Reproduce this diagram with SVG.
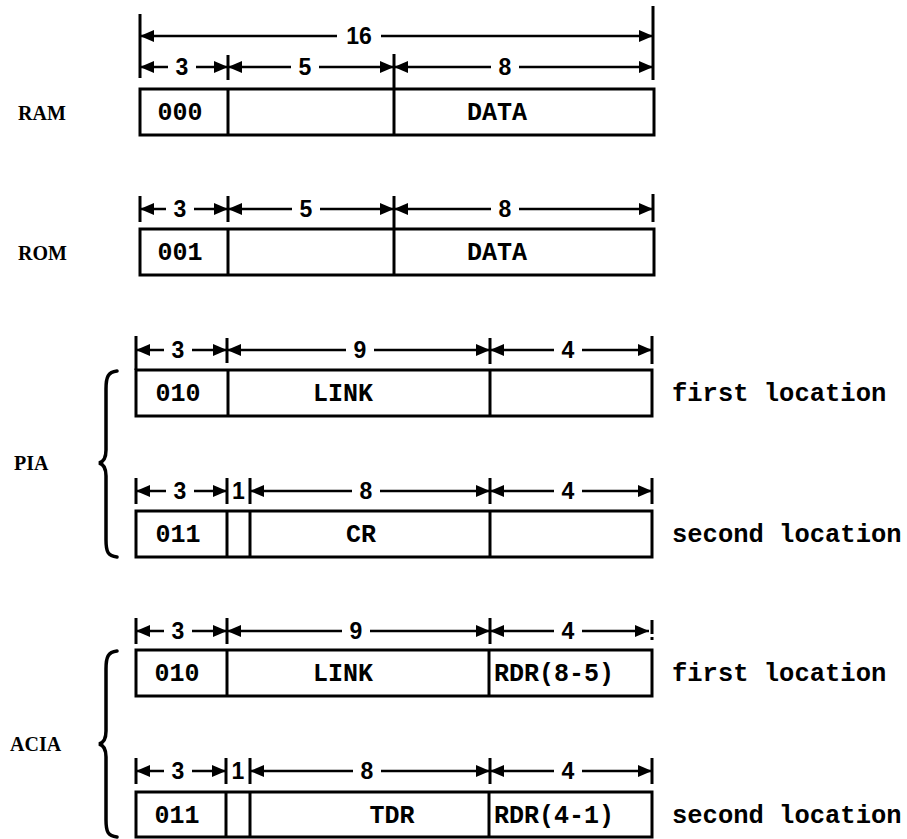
<svg xmlns="http://www.w3.org/2000/svg" width="907" height="839" viewBox="0 0 907 839">
<style>
.box{fill:#fff;stroke:#000;stroke-width:3}
.div{stroke:#000;stroke-width:3}
.tick{stroke:#000;stroke-width:3}
.dim{stroke:#000;stroke-width:2.5;fill:none;marker-end:url(#ah)}
.cell{font-family:"Liberation Mono",monospace;font-weight:bold;font-size:25px;text-anchor:middle;fill:#000}
.lab{font-family:"Liberation Serif",serif;font-weight:bold;font-size:20px;fill:#000}
.loc{font-family:"Liberation Mono",monospace;font-weight:bold;font-size:25.5px;fill:#000}
.num{font-family:"Liberation Sans",sans-serif;font-weight:bold;font-size:23px;text-anchor:middle;fill:#000}
.brace{fill:none;stroke:#000;stroke-width:3.5;stroke-linecap:round}
</style>
<defs>
<marker id="ah" viewBox="0 0 14 12" refX="14" refY="6" markerWidth="14" markerHeight="12" markerUnits="userSpaceOnUse" orient="auto"><path d="M0,0 L14,6 L0,12 z" fill="#000"/></marker>
</defs>
<rect width="907" height="839" fill="#fff"/>

<g id="connectors">
<!-- RAM dims -->
<line class="tick" x1="140" y1="14" x2="140" y2="78"/>
<line class="tick" x1="653" y1="6" x2="653" y2="80"/>
<line class="tick" x1="228" y1="55" x2="228" y2="80"/>
<line class="tick" x1="394" y1="54" x2="394" y2="89"/>
<line class="dim" x1="337" y1="36" x2="140" y2="36"/>
<line class="dim" x1="381" y1="36" x2="653" y2="36"/>
<line class="dim" x1="168" y1="67" x2="140" y2="67"/>
<line class="dim" x1="196" y1="67" x2="228" y2="67"/>
<line class="dim" x1="291" y1="67" x2="228" y2="67"/>
<line class="dim" x1="319" y1="67" x2="394" y2="67"/>
<line class="dim" x1="491" y1="67" x2="394" y2="67"/>
<line class="dim" x1="519" y1="67" x2="653" y2="67"/>
<!-- ROM dims -->
<line class="tick" x1="140" y1="196" x2="140" y2="222"/>
<line class="tick" x1="228" y1="196" x2="228" y2="222"/>
<line class="tick" x1="394" y1="196" x2="394" y2="229"/>
<line class="tick" x1="653" y1="194" x2="653" y2="222"/>
<line class="dim" x1="166" y1="209" x2="140" y2="209"/>
<line class="dim" x1="194" y1="209" x2="228" y2="209"/>
<line class="dim" x1="292" y1="209" x2="228" y2="209"/>
<line class="dim" x1="320" y1="209" x2="394" y2="209"/>
<line class="dim" x1="491" y1="209" x2="394" y2="209"/>
<line class="dim" x1="519" y1="209" x2="653" y2="209"/>
<!-- PIA first dims -->
<line class="tick" x1="136" y1="336" x2="136" y2="370"/>
<line class="tick" x1="227" y1="338" x2="227" y2="363"/>
<line class="tick" x1="490" y1="338" x2="490" y2="364"/>
<line class="tick" x1="652" y1="336" x2="652" y2="364"/>
<line class="dim" x1="164" y1="350" x2="136" y2="350"/>
<line class="dim" x1="192" y1="350" x2="227" y2="350"/>
<line class="dim" x1="346" y1="350" x2="227" y2="350"/>
<line class="dim" x1="374" y1="350" x2="490" y2="350"/>
<line class="dim" x1="554" y1="350" x2="490" y2="350"/>
<line class="dim" x1="582" y1="350" x2="652" y2="350"/>
<!-- PIA second dims -->
<line class="tick" x1="136" y1="478" x2="136" y2="504"/>
<line class="tick" x1="227" y1="478" x2="227" y2="504"/>
<line class="tick" x1="250" y1="478" x2="250" y2="504"/>
<line class="tick" x1="490" y1="478" x2="490" y2="504"/>
<line class="tick" x1="652" y1="478" x2="652" y2="504"/>
<line class="dim" x1="166" y1="491" x2="136" y2="491"/>
<line class="dim" x1="194" y1="491" x2="227" y2="491"/>
<line class="dim" x1="352" y1="491" x2="250" y2="491"/>
<line class="dim" x1="380" y1="491" x2="490" y2="491"/>
<line class="dim" x1="554" y1="491" x2="490" y2="491"/>
<line class="dim" x1="582" y1="491" x2="652" y2="491"/>
<!-- ACIA first dims -->
<line class="tick" x1="136" y1="618" x2="136" y2="644"/>
<line class="tick" x1="227" y1="618" x2="227" y2="644"/>
<line class="tick" x1="490" y1="618" x2="490" y2="644"/>
<line class="tick" x1="652" y1="620" x2="652" y2="634"/>
<line class="tick" x1="652" y1="637" x2="652" y2="640"/>
<line class="dim" x1="164" y1="631" x2="136" y2="631"/>
<line class="dim" x1="192" y1="631" x2="227" y2="631"/>
<line class="dim" x1="342" y1="631" x2="227" y2="631"/>
<line class="dim" x1="370" y1="631" x2="490" y2="631"/>
<line class="dim" x1="554" y1="631" x2="490" y2="631"/>
<line class="dim" x1="582" y1="631" x2="649" y2="631"/>
<!-- ACIA second dims -->
<line class="tick" x1="136" y1="758" x2="136" y2="784"/>
<line class="tick" x1="226" y1="758" x2="226" y2="784"/>
<line class="tick" x1="250" y1="758" x2="250" y2="784"/>
<line class="tick" x1="490" y1="758" x2="490" y2="784"/>
<line class="tick" x1="652" y1="758" x2="652" y2="784"/>
<line class="dim" x1="164" y1="771" x2="136" y2="771"/>
<line class="dim" x1="192" y1="771" x2="226" y2="771"/>
<line class="dim" x1="353" y1="771" x2="250" y2="771"/>
<line class="dim" x1="381" y1="771" x2="490" y2="771"/>
<line class="dim" x1="554" y1="771" x2="490" y2="771"/>
<line class="dim" x1="582" y1="771" x2="652" y2="771"/>
</g>

<g id="dim-labels">
<text class="num" x="359" y="44">16</text>
<text class="num" x="182" y="75">3</text>
<text class="num" x="305" y="75">5</text>
<text class="num" x="505" y="75">8</text>
<text class="num" x="180" y="217">3</text>
<text class="num" x="306" y="217">5</text>
<text class="num" x="505" y="217">8</text>
<text class="num" x="178" y="358">3</text>
<text class="num" x="360" y="358">9</text>
<text class="num" x="568" y="358">4</text>
<text class="num" x="180" y="499">3</text>
<text class="num" x="238.5" y="499">1</text>
<text class="num" x="366" y="499">8</text>
<text class="num" x="568" y="499">4</text>
<text class="num" x="178" y="639">3</text>
<text class="num" x="356" y="639">9</text>
<text class="num" x="568" y="639">4</text>
<text class="num" x="178" y="779">3</text>
<text class="num" x="238" y="779">1</text>
<text class="num" x="367" y="779">8</text>
<text class="num" x="568" y="779">4</text>
</g>

<g id="ram">
<text class="lab" x="18" y="120">RAM</text>
<rect class="box" x="140" y="89" width="514" height="46"/>
<line class="div" x1="228" y1="89" x2="228" y2="135"/>
<line class="div" x1="394" y1="89" x2="394" y2="135"/>
<text class="cell" x="180" y="120">000</text>
<text class="cell" x="497" y="120">DATA</text>
</g>

<g id="rom">
<text class="lab" x="18" y="260">ROM</text>
<rect class="box" x="140" y="229" width="514" height="46"/>
<line class="div" x1="228" y1="229" x2="228" y2="275"/>
<line class="div" x1="394" y1="229" x2="394" y2="275"/>
<text class="cell" x="180" y="260">001</text>
<text class="cell" x="497" y="260">DATA</text>
</g>

<g id="pia">
<text class="lab" x="14" y="470">PIA</text>
<path class="brace" d="M117,371 C108,372 106,377 106,389 L106,450 C106,459 103,462 99,463 C103,464 106,467 106,476 L106,540 C106,552 108,556 117,557"/>
<g id="pia-first">
<rect class="box" x="136" y="370" width="516" height="46"/>
<line class="div" x1="228" y1="370" x2="228" y2="416"/>
<line class="div" x1="490" y1="370" x2="490" y2="416"/>
<text class="cell" x="178" y="401">010</text>
<text class="cell" x="343" y="401">LINK</text>
<text class="loc" x="672" y="401">first location</text>
</g>
<g id="pia-second">
<rect class="box" x="136" y="511" width="516" height="46"/>
<line class="div" x1="227" y1="511" x2="227" y2="557"/>
<line class="div" x1="250" y1="511" x2="250" y2="557"/>
<line class="div" x1="490" y1="511" x2="490" y2="557"/>
<text class="cell" x="178" y="542">011</text>
<text class="cell" x="361" y="542">CR</text>
<text class="loc" x="672" y="542">second location</text>
</g>
</g>

<g id="acia">
<text class="lab" x="10" y="751">ACIA</text>
<path class="brace" d="M117,651 C108,652 106,657 106,669 L106,731 C106,740 103,743 99,744 C103,745 106,748 106,757 L106,820 C106,832 108,836 117,837"/>
<g id="acia-first">
<rect class="box" x="136" y="650" width="516" height="46"/>
<line class="div" x1="227" y1="650" x2="227" y2="696"/>
<line class="div" x1="489" y1="650" x2="489" y2="696"/>
<text class="cell" x="177" y="681">010</text>
<text class="cell" x="343" y="681">LINK</text>
<text class="cell" x="554" y="681">RDR(8-5)</text>
<text class="loc" x="672" y="681">first location</text>
</g>
<g id="acia-second">
<rect class="box" x="136" y="792" width="516" height="45"/>
<line class="div" x1="226" y1="792" x2="226" y2="837"/>
<line class="div" x1="250" y1="792" x2="250" y2="837"/>
<line class="div" x1="489" y1="792" x2="489" y2="837"/>
<text class="cell" x="177" y="823">011</text>
<text class="cell" x="392" y="823">TDR</text>
<text class="cell" x="554" y="823">RDR(4-1)</text>
<text class="loc" x="672" y="823">second location</text>
</g>
</g>
</svg>
